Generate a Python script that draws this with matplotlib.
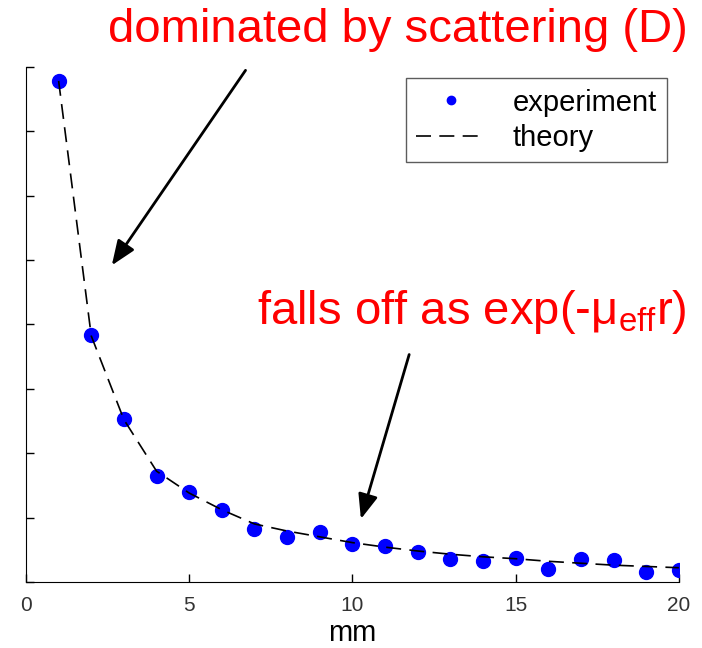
import matplotlib
matplotlib.use("Agg")
import matplotlib.pyplot as plt

plt.rcParams["font.family"] = ["Liberation Sans", "DejaVu Sans"]

# distance from source (mm)
r_mm = list(range(1, 21))
# measured signal (arbitrary units)
experiment = [7.78, 3.84, 2.53, 1.65, 1.40, 1.12, 0.82, 0.70, 0.78, 0.59,
              0.56, 0.47, 0.36, 0.33, 0.37, 0.20, 0.36, 0.34, 0.16, 0.19]
# diffusion theory
theory = [7.78, 3.82, 2.52, 1.72, 1.38, 1.12, 0.90, 0.79, 0.70, 0.61,
          0.54, 0.48, 0.43, 0.39, 0.36, 0.32, 0.29, 0.26, 0.24, 0.22]
x_ticks = [0, 5, 10, 15, 20]

fig = plt.figure(figsize=(7.02, 6.48), dpi=100)
ax = fig.add_axes([0.037, 0.102, 0.93, 0.795])

ax.plot(r_mm, experiment, "o", color="#0000ff", markersize=10, label="experiment")
ax.plot(r_mm, theory, color="black", lw=1.2, dashes=(9, 5), label="theory")

ax.set_xlim(0, 20)
ax.set_ylim(0, 8)
ax.set_xticks(x_ticks)
ax.set_yticks(range(0, 9))
ax.set_yticklabels([])
ax.tick_params(direction="in", length=6, width=1, labelsize=15, pad=10,
               labelcolor="#333333")
ax.spines["top"].set_visible(False)
ax.spines["right"].set_visible(False)
ax.set_xlabel("mm", fontsize=21, labelpad=3)

leg = ax.legend(loc="upper right", bbox_to_anchor=(1.0, 1.0), fontsize=21,
                fancybox=False, edgecolor="#333333", markerscale=0.6,
                handlelength=2.4, handletextpad=0.9, borderpad=0.35,
                labelspacing=0.25, borderaxespad=0.4)
leg.get_frame().set_linewidth(1)

fig.text(0.567, 0.953, "dominated by scattering (D)", color="red",
         fontsize=34, ha="center", va="center")
fig.text(0.672, 0.518, r"falls off as exp(-$\mathregular{\mu_{eff}}$r)", color="red",
         fontsize=34, ha="center", va="center")

fig.patches.append(matplotlib.patches.FancyArrowPatch(
    (0.352, 0.895), (0.157, 0.587), transform=fig.transFigure,
    arrowstyle="-|>,head_length=10,head_width=4", color="black", lw=2, mutation_scale=1.5))
fig.patches.append(matplotlib.patches.FancyArrowPatch(
    (0.584, 0.457), (0.513, 0.195), transform=fig.transFigure,
    arrowstyle="-|>,head_length=10,head_width=4", color="black", lw=2, mutation_scale=1.5))

fig.savefig("out.png", dpi=100)
